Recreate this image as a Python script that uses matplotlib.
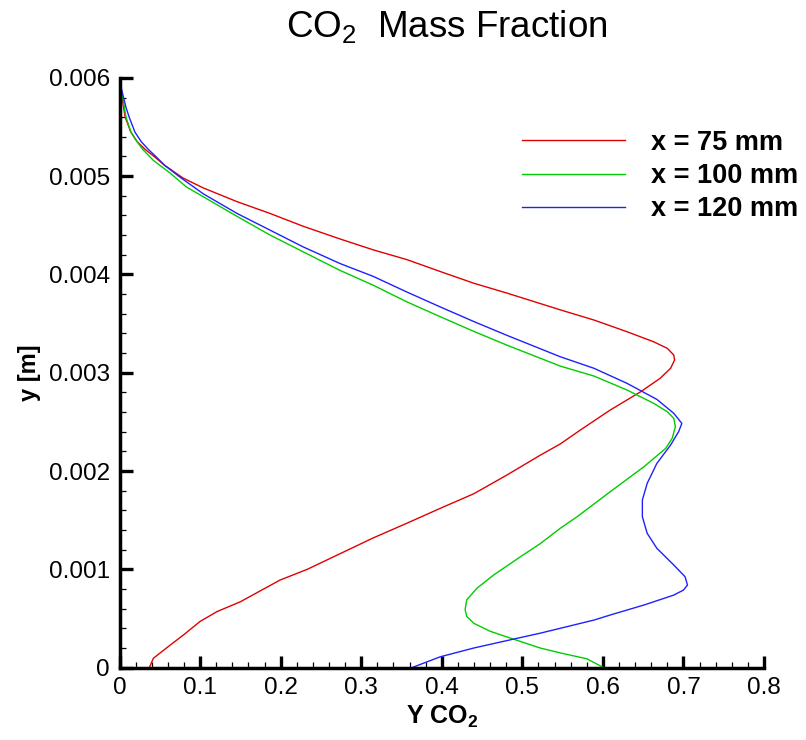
import matplotlib
matplotlib.use("Agg")
import matplotlib.pyplot as plt
from matplotlib.ticker import MultipleLocator, FixedLocator

plt.rcParams['font.family'] = ['Liberation Sans', 'DejaVu Sans']
plt.rcParams['mathtext.fontset'] = 'custom'
plt.rcParams['mathtext.rm'] = 'Liberation Sans'
plt.rcParams['mathtext.bf'] = 'Liberation Sans:bold'

# ---- data: Y CO2 (x) vs y [m] ----
red_x = [0.037, 0.042, 0.063, 0.079, 0.100, 0.121, 0.150, 0.199, 0.233, 0.274, 0.315, 0.357,
         0.398, 0.440, 0.481, 0.522, 0.547, 0.572, 0.609, 0.647, 0.671, 0.684, 0.689, 0.688,
         0.680, 0.663, 0.630, 0.589, 0.547, 0.481, 0.440, 0.398, 0.357, 0.315, 0.274, 0.228,
         0.187, 0.146, 0.104, 0.079, 0.056, 0.043, 0.032, 0.022, 0.014, 0.007, 0.004, 0.002]
red_y = [0.0, 0.095e-3, 0.23e-3, 0.33e-3, 0.47e-3, 0.57e-3, 0.67e-3, 0.89e-3, 1.00e-3, 1.16e-3,
         1.32e-3, 1.47e-3, 1.62e-3, 1.77e-3, 1.96e-3, 2.16e-3, 2.275e-3, 2.417e-3, 2.62e-3,
         2.807e-3, 2.943e-3, 3.045e-3, 3.129e-3, 3.18e-3, 3.248e-3, 3.315e-3, 3.417e-3,
         3.536e-3, 3.64e-3, 3.81e-3, 3.91e-3, 4.03e-3, 4.15e-3, 4.25e-3, 4.36e-3, 4.49e-3,
         4.62e-3, 4.74e-3, 4.88e-3, 4.98e-3, 5.11e-3, 5.20e-3, 5.27e-3, 5.35e-3, 5.45e-3,
         5.60e-3, 5.75e-3, 5.88e-3]

green_x = [0.601, 0.580, 0.547, 0.522, 0.489, 0.460, 0.440, 0.431, 0.429, 0.431, 0.444, 0.464,
           0.498, 0.522, 0.547, 0.568, 0.609, 0.651, 0.678, 0.686, 0.690, 0.688, 0.680, 0.663,
           0.630, 0.589, 0.547, 0.481, 0.440, 0.398, 0.357, 0.315, 0.274, 0.228, 0.187, 0.146,
           0.104, 0.083, 0.063, 0.042, 0.029, 0.020, 0.014, 0.008, 0.005, 0.002]
green_y = [0.0, 0.09e-3, 0.15e-3, 0.20e-3, 0.29e-3, 0.37e-3, 0.45e-3, 0.52e-3, 0.59e-3, 0.69e-3,
           0.81e-3, 0.94e-3, 1.13e-3, 1.26e-3, 1.417e-3, 1.535e-3, 1.789e-3, 2.044e-3, 2.231e-3,
           2.333e-3, 2.451e-3, 2.536e-3, 2.603e-3, 2.689e-3, 2.824e-3, 2.966e-3, 3.068e-3,
           3.28e-3, 3.42e-3, 3.57e-3, 3.72e-3, 3.89e-3, 4.04e-3, 4.23e-3, 4.40e-3, 4.59e-3,
           4.79e-3, 4.89e-3, 5.03e-3, 5.16e-3, 5.27e-3, 5.37e-3, 5.45e-3, 5.60e-3, 5.75e-3,
           5.88e-3]

blue_x = [0.363, 0.398, 0.440, 0.489, 0.522, 0.547, 0.589, 0.609, 0.651, 0.688, 0.700, 0.705,
          0.702, 0.688, 0.667, 0.655, 0.649, 0.649, 0.655, 0.667, 0.684, 0.694, 0.698, 0.688,
          0.667, 0.630, 0.589, 0.547, 0.481, 0.440, 0.398, 0.357, 0.315, 0.274, 0.228, 0.187,
          0.146, 0.104, 0.075, 0.056, 0.045, 0.036, 0.027, 0.019, 0.012, 0.008, 0.005, 0.002]
blue_y = [0.0, 0.11e-3, 0.20e-3, 0.29e-3, 0.35e-3, 0.40e-3, 0.484e-3, 0.535e-3, 0.637e-3,
          0.738e-3, 0.789e-3, 0.84e-3, 0.925e-3, 1.044e-3, 1.214e-3, 1.366e-3, 1.535e-3,
          1.705e-3, 1.875e-3, 2.078e-3, 2.264e-3, 2.40e-3, 2.485e-3, 2.587e-3, 2.729e-3,
          2.892e-3, 3.045e-3, 3.163e-3, 3.38e-3, 3.52e-3, 3.67e-3, 3.82e-3, 3.98e-3, 4.11e-3,
          4.28e-3, 4.45e-3, 4.62e-3, 4.82e-3, 4.99e-3, 5.11e-3, 5.20e-3, 5.27e-3, 5.35e-3,
          5.45e-3, 5.60e-3, 5.70e-3, 5.80e-3, 5.90e-3]

labels = ['x = 75 mm', 'x = 100 mm', 'x = 120 mm']
colors = ['#e00000', '#00cc00', '#2020ff']
x_ticks = [0, 0.1, 0.2, 0.3, 0.4, 0.5, 0.6, 0.7, 0.8]
x_ticklabels = ['0', '0.1', '0.2', '0.3', '0.4', '0.5', '0.6', '0.7', '0.8']
y_ticks = [0, 0.001, 0.002, 0.003, 0.004, 0.005, 0.006]
y_ticklabels = ['0', '0.001', '0.002', '0.003', '0.004', '0.005', '0.006']

fig = plt.figure(figsize=(8.06, 7.40), dpi=100)
ax = fig.add_axes([0.1483, 0.0978, 0.7996, 0.7970])

for xs, ys, lab, c in zip([red_x, green_x, blue_x], [red_y, green_y, blue_y], labels, colors):
    ax.plot(xs, ys, color=c, lw=1.0, label=lab)

ax.set_xlim(0, 0.8)
ax.set_ylim(0, 0.006)
ax.xaxis.set_major_locator(FixedLocator(x_ticks))
ax.set_xticklabels(x_ticklabels)
ax.yaxis.set_major_locator(FixedLocator(y_ticks))
ax.set_yticklabels(y_ticklabels)
ax.xaxis.set_minor_locator(MultipleLocator(0.02))
ax.yaxis.set_minor_locator(MultipleLocator(0.0002))

for s in ['top', 'right']:
    ax.spines[s].set_visible(False)
for s in ['left', 'bottom']:
    ax.spines[s].set_linewidth(2.5)

ax.tick_params(which='major', direction='in', length=9, width=2.4, labelsize=17.5, pad=7)
ax.tick_params(which='minor', direction='in', length=4.5, width=0.9)

ax.set_xlabel('Y CO$_\\mathregular{2}$', fontsize=18, fontweight='bold')
ax.xaxis.set_label_coords(0.5, -0.062)
ax.set_ylabel('y [m]', fontsize=17, fontweight='bold')
ax.yaxis.set_label_coords(-0.122, 0.5)

fig.text(0.5546, 0.9635, 'CO$_\\mathregular{2}$  Mass Fraction', fontsize=26.5,
         ha='center', va='center')

leg = ax.legend(loc='upper left', bbox_to_anchor=(0.6245, 0.912), frameon=False,
                prop={'weight': 'bold', 'size': 19.5}, handlelength=3.8,
                handletextpad=0.98, labelspacing=0.27, borderpad=0, borderaxespad=0)

fig.savefig('out.png', dpi=100)
